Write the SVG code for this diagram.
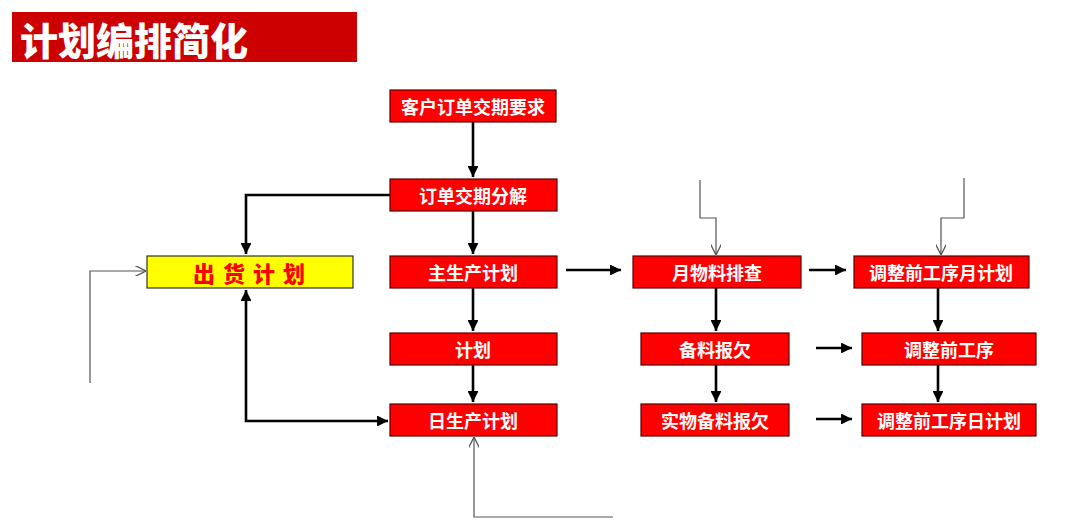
<svg xmlns="http://www.w3.org/2000/svg" width="1080" height="525" viewBox="0 0 1080 525">
<style>
.box{fill:#ff0000;stroke:#5a0000;stroke-width:1.2}
.lbl{font-family:"Noto Sans CJK SC","Microsoft YaHei",sans-serif;font-weight:bold;font-size:18px;fill:#ffffff;text-anchor:middle;dominant-baseline:central}
.thick{fill:none;stroke:#000;stroke-width:2.6}
.thin{fill:none;stroke:#555;stroke-width:1.2}
</style>
<defs>
<marker id="ah" viewBox="0 0 10 10" refX="10" refY="5" markerWidth="4.2" markerHeight="4.2" orient="auto-start-reverse" markerUnits="strokeWidth">
<path d="M0,0 L10,5 L0,10 z" fill="#000"/>
</marker>
<marker id="oh" viewBox="0 0 10 10" refX="10" refY="5" markerWidth="9" markerHeight="9" orient="auto" markerUnits="strokeWidth">
<path d="M0,0 L10,5 L0,10" fill="none" stroke="#555" stroke-width="1.2"/>
</marker>
</defs>
<rect x="0" y="0" width="1080" height="525" fill="#ffffff"/>
<g id="title">
<rect x="12" y="12" width="345" height="50" fill="#cc0000"/>
<text x="20" y="38" font-family="Noto Sans CJK SC,sans-serif" font-weight="900" font-size="38" fill="#ffffff" dominant-baseline="central">计划编排简化</text>
</g>
<g id="connectors">
<path class="thick" d="M473,122 V177" marker-end="url(#ah)"/>
<path class="thick" d="M473,211 V254" marker-end="url(#ah)"/>
<path class="thick" d="M473,288 V331" marker-end="url(#ah)"/>
<path class="thick" d="M473,365 V402" marker-end="url(#ah)"/>
<path class="thick" d="M390,195 H246 V254" marker-end="url(#ah)"/>
<path class="thick" d="M246,290 V421 H388" marker-start="url(#ah)" marker-end="url(#ah)"/>
<path class="thick" d="M566,270 H621" marker-end="url(#ah)"/>
<path class="thick" d="M809,270 H846" marker-end="url(#ah)"/>
<path class="thick" d="M716,288 V331" marker-end="url(#ah)"/>
<path class="thick" d="M716,365 V402" marker-end="url(#ah)"/>
<path class="thick" d="M938,288 V331" marker-end="url(#ah)"/>
<path class="thick" d="M938,365 V402" marker-end="url(#ah)"/>
<path class="thick" d="M816,348 H852" marker-end="url(#ah)"/>
<path class="thick" d="M816,419 H852" marker-end="url(#ah)"/>
<path class="thin" d="M90,383 V271 H146" marker-end="url(#oh)"/>
<path class="thin" d="M700,180 V218 H716 V255" marker-end="url(#oh)"/>
<path class="thin" d="M964,178 V218 H941 V255" marker-end="url(#oh)"/>
<path class="thin" d="M613,517 H474 V437" marker-end="url(#oh)"/>
</g>
<g id="n1"><rect class="box" x="390" y="90" width="166" height="32"/><text class="lbl" x="473" y="106">客户订单交期要求</text></g>
<g id="n2"><rect class="box" x="390" y="179" width="167" height="32"/><text class="lbl" x="473" y="195">订单交期分解</text></g>
<g id="n3"><rect class="box" x="390" y="256" width="167" height="32"/><text class="lbl" x="473" y="272">主生产计划</text></g>
<g id="n4"><rect class="box" x="390" y="333" width="167" height="32"/><text class="lbl" x="473" y="349">计划</text></g>
<g id="n5"><rect class="box" x="390" y="404" width="167" height="32"/><text class="lbl" x="473" y="420">日生产计划</text></g>
<g id="n6"><rect x="147" y="256" width="206" height="32" fill="#ffff00" stroke="#333" stroke-width="1.2"/><text x="253" y="272" font-family="Noto Sans CJK SC,sans-serif" font-weight="900" font-size="22" fill="#ff0000" text-anchor="middle" dominant-baseline="central" letter-spacing="8">出货计划</text></g>
<g id="n7"><rect class="box" x="633" y="256" width="168" height="32"/><text class="lbl" x="717" y="272">月物料排查</text></g>
<g id="n8"><rect class="box" x="854" y="256" width="175" height="32"/><text class="lbl" x="941" y="272">调整前工序月计划</text></g>
<g id="n9"><rect class="box" x="641" y="333" width="148" height="32"/><text class="lbl" x="715" y="349">备料报欠</text></g>
<g id="n10"><rect class="box" x="862" y="333" width="174" height="32"/><text class="lbl" x="949" y="349">调整前工序</text></g>
<g id="n11"><rect class="box" x="641" y="404" width="148" height="32"/><text class="lbl" x="715" y="420">实物备料报欠</text></g>
<g id="n12"><rect class="box" x="862" y="404" width="174" height="32"/><text class="lbl" x="949" y="420">调整前工序日计划</text></g>
</svg>
